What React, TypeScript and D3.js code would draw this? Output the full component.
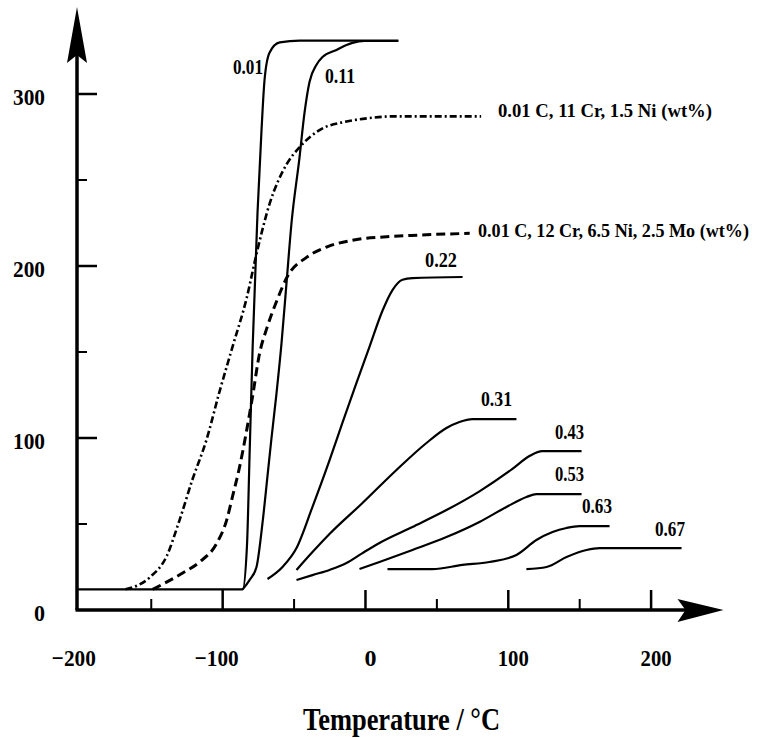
import React from "react";
import * as d3 from "d3";

type P = [number, number];

// carbon-content curves (wt% C), solid lines
const c001: P[] = [[-202, 12], [-86, 12], [-83, 37], [-81, 95], [-79, 153], [-75.6, 231], [-72.8, 279], [-70.7, 308], [-67.2, 324], [-60, 330], [-46, 331], [23, 331]];
const c011: P[] = [[-86, 12], [-81.2, 17.4], [-76.3, 25], [-72.1, 50.6], [-68.6, 78], [-65.8, 100], [-62.3, 126], [-58.8, 155], [-55.3, 190], [-51.8, 225], [-46.2, 263], [-42.7, 289], [-39.2, 307], [-34.3, 317], [-30.1, 321.5], [-20.3, 325.6], [-13.3, 328.5], [-9.1, 329.7], [-0.7, 330.8], [23, 330.8]];
const c022: P[] = [[-68.6, 18], [-58.1, 25], [-48.3, 36], [-37.1, 60], [-25.2, 87], [-16.1, 109], [-6.3, 132], [2.8, 153], [11.9, 174], [18.9, 186], [25.9, 192], [32.9, 193], [68, 193.6]];
const c031: P[] = [[-48.3, 23.3], [-37.1, 33.7], [-25.2, 44.2], [-2.1, 62.2], [21.7, 81.4], [42.7, 97.1], [56.7, 105.8], [65.8, 109.3], [74.9, 111], [105.7, 111]];
const c043: P[] = [[-48.3, 17.4], [-37.1, 20.3], [-25.2, 23.3], [-13.3, 27.3], [-2.1, 33.1], [9.8, 39], [32.9, 48.3], [56.7, 58.1], [79.8, 69], [102.9, 82], [114.8, 89.5], [123.9, 92.4], [151.3, 92.4]];
const c053: P[] = [[-4.2, 23.8], [9.8, 27.9], [32.9, 34.9], [56.7, 42.4], [79.8, 51.2], [98.7, 59.9], [112.7, 65.7], [119.7, 67.4], [151.3, 67.4]];
const c063: P[] = [[15.4, 23.8], [46.9, 23.8], [67.9, 26.2], [86.8, 27.9], [105.7, 32], [119.7, 40.7], [131, 45.3], [140.8, 47.7], [149.9, 48.8], [170.9, 48.8]];
const c067: P[] = [[112.7, 23.8], [126.8, 25], [140.8, 30.8], [154.8, 34.9], [163.9, 36], [221.3, 36]];
// alloy curves
const alloy11Cr: P[] = [[-168, 12], [-151, 19], [-139.4, 31], [-130.3, 52], [-121.1, 76], [-111.3, 99], [-102.2, 127], [-93.1, 153], [-83.3, 181], [-76.3, 207], [-67.2, 236], [-55.3, 259], [-46.2, 269], [-32.2, 279], [-13.3, 284], [2.8, 286], [18.9, 287], [81, 287]];
const alloy12Cr: P[] = [[-149, 12], [-128, 21.5], [-116, 28], [-104, 39], [-97.3, 52], [-93.1, 66], [-88.2, 83], [-83.3, 104], [-79.1, 124], [-74.2, 149], [-69, 164], [-62, 180], [-54.6, 194], [-41.3, 205], [-27.3, 211], [-9.1, 215], [14.7, 217], [37.8, 218], [73, 219]];

const xMajor = [-100, 0, 100, 200];
const xMinor = [-150, -50, 50, 150];
const xLabels = [-200, -100, 0, 100, 200];
const yMajor = [100, 200, 300];
const yMinor = [50, 150, 250];
const yLabels = [0, 100, 200, 300];

const curveLabels = [
  { text: "0.01", x: 233, y: 74, w: 30, fs: 21 },
  { text: "0.11", x: 325, y: 83, w: 30, fs: 21 },
  { text: "0.01 C, 11 Cr, 1.5 Ni (wt%)", x: 498, y: 117, w: 214, fs: 19 },
  { text: "0.01 C, 12 Cr, 6.5 Ni, 2.5 Mo (wt%)", x: 478, y: 237, w: 271, fs: 18 },
  { text: "0.22", x: 425, y: 267, w: 32, fs: 21 },
  { text: "0.31", x: 481, y: 406, w: 31, fs: 21 },
  { text: "0.43", x: 555, y: 439, w: 29, fs: 21 },
  { text: "0.53", x: 555, y: 481, w: 29, fs: 21 },
  { text: "0.63", x: 582, y: 513, w: 30, fs: 21 },
  { text: "0.67", x: 655, y: 536, w: 30, fs: 21 },
];

const FONT = "'Liberation Serif', 'Times New Roman', serif";

export default function App() {
  const x = d3.scaleLinear().domain([-202, 250]).range([77, 722.5]);
  const y = d3.scaleLinear().domain([0, 350]).range([610, 8]);
  const line = d3
    .line<P>()
    .x((d) => x(d[0]))
    .y((d) => y(d[1]))
    .curve(d3.curveMonotoneX);

  const solids = [c001, c011, c022, c031, c043, c053, c063, c067];
  const x0 = x(-202);
  const y0 = y(0);
  const xEnd = x(250);
  const yTop = y(350);

  return (
    <svg
      width={758}
      height={738}
      style={{ position: "absolute", left: 0, top: 0, background: "#fff" }}
      fontFamily={FONT}
      fontWeight="bold"
    >
      <rect width={758} height={738} fill="#fff" />
      {/* curves */}
      {solids.map((s, i) => (
        <path key={i} d={line(s) || ""} fill="none" stroke="#000" strokeWidth={2.2} strokeLinejoin="round" />
      ))}
      <path d={line(alloy11Cr) || ""} fill="none" stroke="#000" strokeWidth={2.6} strokeDasharray="7,3,2,3" />
      <path d={line(alloy12Cr) || ""} fill="none" stroke="#000" strokeWidth={3} strokeDasharray="9,5" />

      {/* axes */}
      <line x1={x0} y1={y0} x2={x0} y2={yTop + 14} stroke="#000" strokeWidth={3.5} />
      <line x1={x0 - 1.5} y1={y0} x2={xEnd - 10} y2={y0} stroke="#000" strokeWidth={3.5} />
      <path d={`M${x0},${yTop - 1} L${x0 + 10},${yTop + 55} L${x0},${yTop + 47} L${x0 - 10},${yTop + 55} Z`} fill="#000" />
      <path d={`M${xEnd + 1},${y0} L${xEnd - 45},${y0 - 11} L${xEnd - 37},${y0} L${xEnd - 45},${y0 + 12} Z`} fill="#000" />

      {xMajor.map((v) => (
        <line key={"xM" + v} x1={x(v)} x2={x(v)} y1={y0} y2={y0 - 20} stroke="#000" strokeWidth={2.5} />
      ))}
      {xMinor.map((v) => (
        <line key={"xm" + v} x1={x(v)} x2={x(v)} y1={y0} y2={y0 - 11} stroke="#000" strokeWidth={2} />
      ))}
      {yMajor.map((v) => (
        <line key={"yM" + v} x1={x0} x2={x0 + 20} y1={y(v)} y2={y(v)} stroke="#000" strokeWidth={2.5} />
      ))}
      {yMinor.map((v) => (
        <line key={"ym" + v} x1={x0} x2={x0 + 10} y1={y(v)} y2={y(v)} stroke="#000" strokeWidth={2} />
      ))}

      {xLabels.map((v) => {
        const t = v < 0 ? "\u2212" + Math.abs(v) : String(v);
        const w = v < 0 ? 44 : v === 0 ? 12 : 31;
        return (
          <text
            key={"xl" + v}
            x={x(v) + (v < 0 ? -6 : 5)}
            y={666}
            textAnchor="middle"
            fontSize={24}
            textLength={w}
            lengthAdjust="spacingAndGlyphs"
          >
            {t}
          </text>
        );
      })}
      {yLabels.map((v) => (
        <text
          key={"yl" + v}
          x={45}
          y={y(v) + 10.5}
          textAnchor="end"
          fontSize={24}
          textLength={v === 0 ? 11 : 32}
          lengthAdjust="spacingAndGlyphs"
        >
          {String(v)}
        </text>
      ))}

      {curveLabels.map((l) => (
        <text key={l.text} x={l.x} y={l.y} fontSize={l.fs} textLength={l.w} lengthAdjust="spacingAndGlyphs">
          {l.text}
        </text>
      ))}

      <text x={303} y={730} fontSize={32} textLength={197} lengthAdjust="spacingAndGlyphs">
        Temperature / °C
      </text>
    </svg>
  );
}
